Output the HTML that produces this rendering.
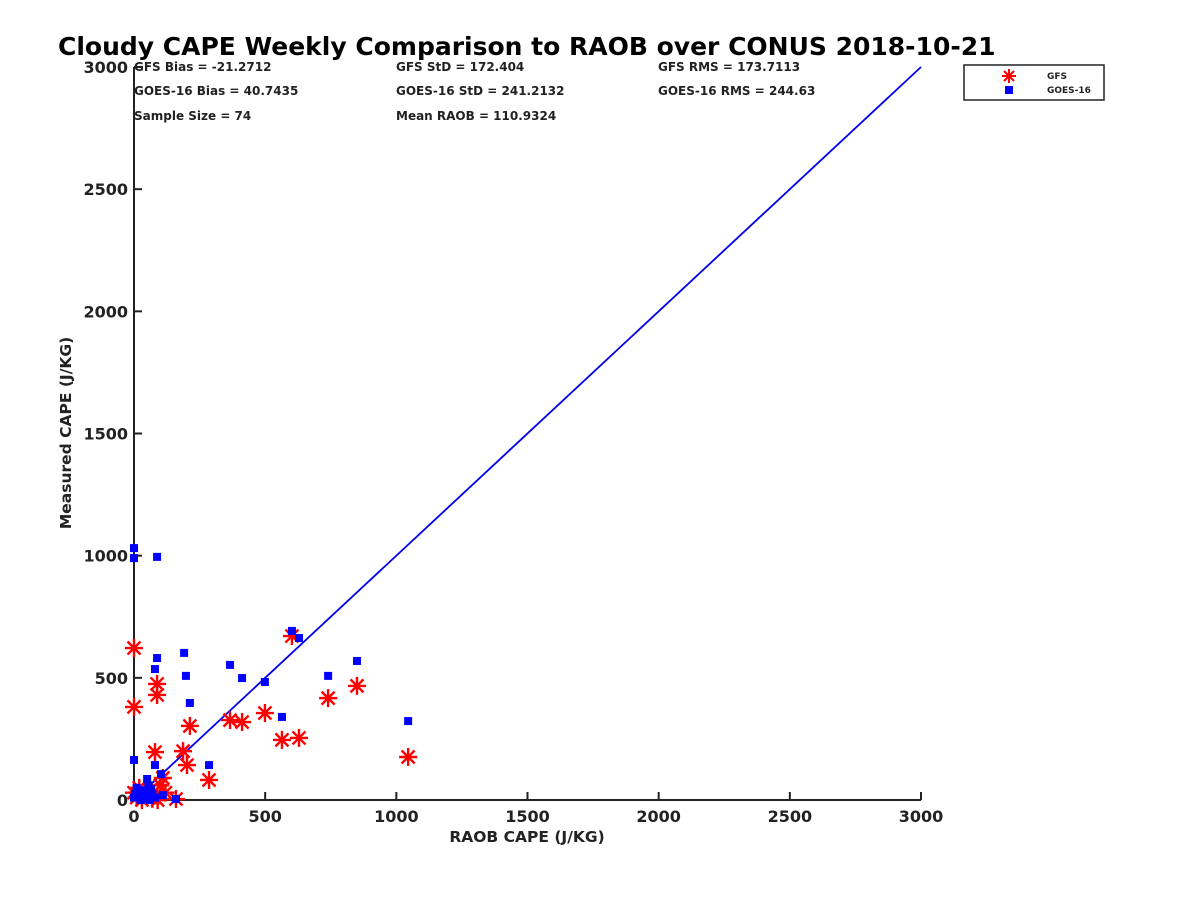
<!DOCTYPE html>
<html><head><meta charset="utf-8"><style>
html,body{margin:0;padding:0;background:#fff;}
svg text{font-family:"DejaVu Sans","Liberation Sans",sans-serif;font-weight:bold;fill:#222;}
</style></head><body>
<svg id="chart" width="1200" height="900" xmlns="http://www.w3.org/2000/svg">
<text x="58" y="55" font-size="25" style="fill:#000">Cloudy CAPE Weekly Comparison to RAOB over CONUS 2018-10-21</text>
<g font-size="12">
<text x="134" y="71">GFS Bias = -21.2712</text>
<text x="134" y="95">GOES-16 Bias = 40.7435</text>
<text x="134" y="120">Sample Size = 74</text>
<text x="396" y="71">GFS StD = 172.404</text>
<text x="396" y="95">GOES-16 StD = 241.2132</text>
<text x="396" y="120">Mean RAOB = 110.9324</text>
<text x="658" y="71">GFS RMS = 173.7113</text>
<text x="658" y="95">GOES-16 RMS = 244.63</text>
</g>
<g id="axes"></g>
<g id="marks"></g>
<g>
<rect x="964" y="65" width="140" height="35" fill="#fff" stroke="#222" stroke-width="1.5"/>
<g stroke="red" stroke-width="2">
<line x1="1002" y1="76" x2="1016" y2="76"/><line x1="1009" y1="69" x2="1009" y2="83"/>
<line x1="1004" y1="71" x2="1014" y2="81"/><line x1="1004" y1="81" x2="1014" y2="71"/></g>
<rect x="1005" y="86" width="8" height="8" fill="#0000ff"/>
<text x="1047" y="79" font-size="9">GFS</text>
<text x="1047" y="93" font-size="9">GOES-16</text>
</g>
<text x="527" y="842" font-size="15.5" text-anchor="middle">RAOB CAPE (J/KG)</text>
<text x="71" y="433" font-size="15.5" text-anchor="middle" transform="rotate(-90 71 433)">Measured CAPE (J/KG)</text>
</svg>
<script>
const ticks=[0,500,1000,1500,2000,2500,3000];
const tickLabels=["0","500","1000","1500","2000","2500","3000"];
const goesX=[0,0,88,88,80,191,198,213,366,412,499,564,602,629,740,850,0,80,286,103,50,65,160,110,1045,0,20,30,10,40,60,80,15,35,5,45,70,25,55];
const goesY=[1031,990,995,581,536,602,508,397,553,499,483,340,692,663,508,569,164,143,143,106,86,45,4,20,323,10,30,5,50,20,0,10,15,40,25,8,25,0,60];
const gfsX=[0,0,88,88,80,187,202,213,286,366,412,499,564,629,602,740,850,160,1045,0,10,20,30,50,60,70,90,100,120,110,40,15];
const gfsY=[622,381,475,430,196,200,143,303,82,327,319,356,246,254,671,417,467,4,176,30,10,50,0,20,40,5,0,60,30,90,25,15];
const lineX=[0,3000];const lineY=[0,3000];
const X0=134,X1=921,Y0=800,Y1=67;
const sx=v=>X0+(v/3000)*(X1-X0);
const sy=v=>Y0-(v/3000)*(Y0-Y1);
const NS="http://www.w3.org/2000/svg";
const ax=document.getElementById('axes'),mk=document.getElementById('marks');
function mkEl(t,a,p){const e=document.createElementNS(NS,t);for(const k in a)e.setAttribute(k,a[k]);p.appendChild(e);return e;}
let xl=mkEl('line',{x1:X0,y1:Y0,x2:X1,y2:Y0,stroke:'#222','stroke-width':2},ax);


let yl=mkEl('line',{x1:X0,y1:Y0,x2:X0,y2:Y1,stroke:'#222','stroke-width':2},ax);


ticks.forEach((t,i)=>{
 mkEl('line',{x1:sx(t),y1:Y0,x2:sx(t),y2:Y0-8,stroke:'#222','stroke-width':2},ax);
 mkEl('line',{x1:X0,y1:sy(t),x2:X0+8,y2:sy(t),stroke:'#222','stroke-width':2},ax);
 let a=mkEl('text',{x:sx(t),y:Y0+22,'font-size':16,'text-anchor':'middle'},ax);a.textContent=tickLabels[i];
 
 
 let b=mkEl('text',{x:X0-6,y:sy(t)+6,'font-size':16,'text-anchor':'end'},ax);b.textContent=tickLabels[i];
 
 
});
let ol=mkEl('line',{x1:sx(lineX[0]),y1:sy(lineY[0]),x2:sx(lineX[1]),y2:sy(lineY[1]),stroke:'#0000ee','stroke-width':1.8},mk);


gfsX.forEach((v,i)=>{
 const cx=sx(v),cy=sy(gfsY[i]);
 const g=mkEl('g',{stroke:'red','stroke-width':2.4},mk);
 
 
 mkEl('line',{x1:cx-9,y1:cy,x2:cx+9,y2:cy},g);
 mkEl('line',{x1:cx,y1:cy-9,x2:cx,y2:cy+9},g);
 mkEl('line',{x1:cx-6.5,y1:cy-6.5,x2:cx+6.5,y2:cy+6.5},g);
 mkEl('line',{x1:cx-6.5,y1:cy+6.5,x2:cx+6.5,y2:cy-6.5},g);
});
goesX.forEach((v,i)=>{
 const r=mkEl('rect',{x:sx(v)-4,y:sy(goesY[i])-4,width:8,height:8,fill:'#0000ff'},mk);
 
 
});
</script>
</body></html>
